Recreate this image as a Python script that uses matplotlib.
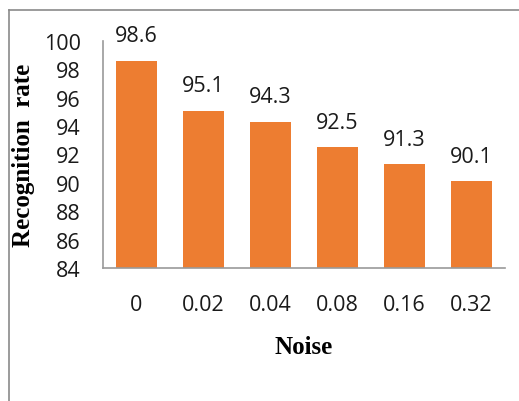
import matplotlib.pyplot as plt
from matplotlib.lines import Line2D

noise = ["0", "0.02", "0.04", "0.08", "0.16", "0.32"]
rate = [98.6, 95.1, 94.3, 92.5, 91.3, 90.1]
yticks = [84, 86, 88, 90, 92, 94, 96, 98, 100]

W, H = 519, 402
fig = plt.figure(figsize=(W / 100, H / 100), dpi=100)
ax = fig.add_axes([103 / W, 1 - 269 / H, (505 - 103) / W, (269 - 42) / H])

x = range(len(noise))
ax.bar(x, rate, width=0.6, color="#ED7D31")
ax.set_xlim(-0.5, len(noise) - 0.5)
ax.set_ylim(84, 100)
ax.set_yticks(yticks)
ax.set_xticks(list(x))
ax.set_xticklabels(noise)

lab_font = dict(family="Open Sans", size=15.5, color="#1a1a1a")
for t in ax.get_xticklabels() + ax.get_yticklabels():
    t.set_fontfamily("Open Sans")
    t.set_fontsize(15.5)
    t.set_color("#1a1a1a")
ax.tick_params(length=0)
ax.tick_params(axis="x", pad=19)
ax.tick_params(axis="y", pad=16)

for s in ["top", "right"]:
    ax.spines[s].set_visible(False)
for s in ["left", "bottom"]:
    ax.spines[s].set_color("#9a9a9a")
    ax.spines[s].set_linewidth(1.2)

for i, v in enumerate(rate):
    ax.annotate(f"{v}", (i, v), xytext=(0, 14), textcoords="offset points",
                ha="center", va="baseline", **lab_font)

ax.set_ylabel("Recognition  rate", family="Liberation Serif", weight="bold",
              size=18)
ax.yaxis.set_label_coords(-0.169, 0.5)
ax.set_xlabel("Noise", family="Liberation Serif", weight="bold", size=18)
ax.xaxis.set_label_coords(0.5, -0.295)

# outer frame around the chart area
fig.add_artist(Line2D([8.5 / W, 8.5 / W], [0, 1 - 11 / H], color="#8a8a8a", lw=1.2))
fig.add_artist(Line2D([8.5 / W, 1], [1 - 11 / H, 1 - 11 / H], color="#8a8a8a", lw=1.2))

fig.savefig("out.png", dpi=100)
